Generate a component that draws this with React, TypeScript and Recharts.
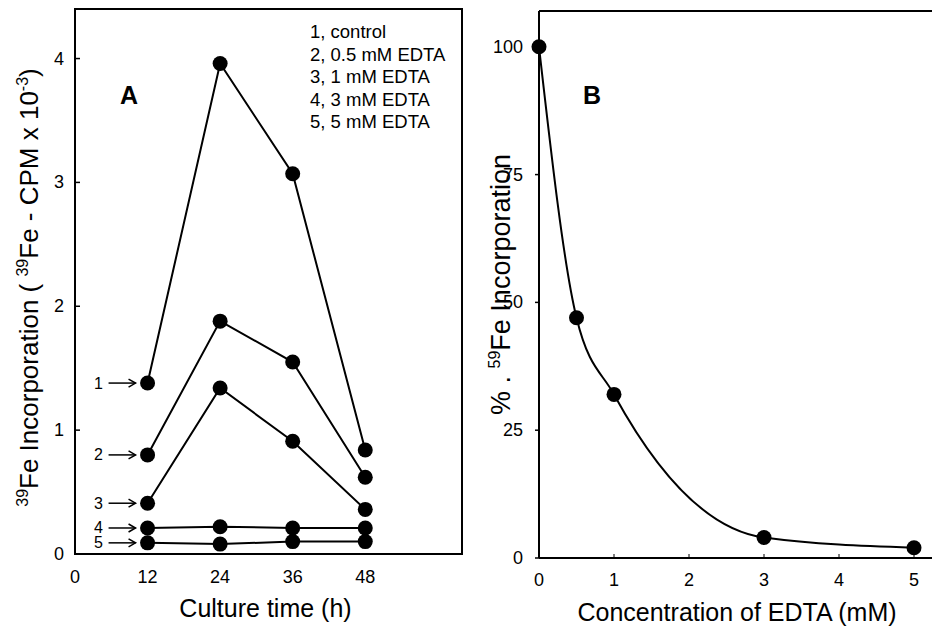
import React from 'react';
import { LineChart, Line, XAxis, YAxis, ReferenceArea, ReferenceLine, Legend, LabelList, Label } from 'recharts';

const FONT = '"Liberation Sans", Arial, Helvetica, sans-serif';

// Panel A: culture time course
const cultureTimes = [12, 24, 36, 48];
const controlValues = [1.38, 3.96, 3.07, 0.84];
const edta05Values = [0.8, 1.88, 1.55, 0.62];
const edta1Values = [0.41, 1.34, 0.91, 0.36];
const edta3Values = [0.21, 0.22, 0.21, 0.21];
const edta5Values = [0.09, 0.08, 0.1, 0.1];
const seriesIds = ['1', '2', '3', '4', '5'];
const seriesNames = ['1, control', '2, 0.5 mM EDTA', '3, 1 mM EDTA', '4, 3 mM EDTA', '5, 5 mM EDTA'];
const timeTicks = [0, 12, 24, 36, 48];
const cpmTicks = [0, 1, 2, 3, 4];

// Panel B: dose response
const edtaConcentrations = [0, 0.5, 1, 3, 5];
const percentIncorporation = [100, 47, 32, 4, 2];
const concTicks = [0, 1, 2, 3, 4, 5];
const percentTicks = [0, 25, 50, 75, 100];

const seriesValues = [controlValues, edta05Values, edta1Values, edta3Values, edta5Values];
const timeData = cultureTimes.map((t, i) => {
  const row: any = { t };
  seriesValues.forEach((s, k) => {
    row['s' + k] = s[i];
  });
  return row;
});
const edtaData = edtaConcentrations.map((c, i) => ({ c, p: percentIncorporation[i] }));

const TICK_FS = 18;

const LeftTick = (props: any) => {
  const { x, y, payload } = props;
  return (
    <text x={x} y={y} textAnchor="end" dominantBaseline="central" fontSize={TICK_FS} fontFamily={FONT} fill="#000">
      {payload.value}
    </text>
  );
};

const BottomTick = (props: any) => {
  const { x, y, payload } = props;
  return (
    <text x={x} y={y} textAnchor="middle" dominantBaseline="central" fontSize={TICK_FS} fontFamily={FONT} fill="#000">
      {payload.value}
    </text>
  );
};

const makeArrowLabel = (id: string) => (props: any) => {
  const { x, y, index } = props;
  if (index !== 0) return null;
  return (
    <g>
      <text x={x - 49} y={y} textAnchor="middle" dominantBaseline="central" fontSize={16} fontFamily={FONT} fill="#000">
        {id}
      </text>
      <line x1={x - 39} y1={y} x2={x - 12} y2={y} stroke="#000" strokeWidth={1.5} />
      <path d={`M${x - 19},${y - 4} L${x - 12},${y} L${x - 19},${y + 4}`} fill="none" stroke="#000" strokeWidth={1.5} />
    </g>
  );
};

const YLabelA = (props: any) => {
  const { viewBox } = props;
  const px = viewBox.x + 38;
  const py = viewBox.y + viewBox.height / 2 + 6;
  return (
    <text x={px} y={py} transform={`rotate(-90, ${px}, ${py})`} textAnchor="middle" fontSize={26} fontFamily={FONT} fill="#000">
      <tspan fontSize={16} dy={-10}>39</tspan>
      <tspan dy={10}>Fe Incorporation ( </tspan>
      <tspan fontSize={16} dy={-10}>39</tspan>
      <tspan dy={10}>Fe - CPM x 10</tspan>
      <tspan fontSize={16} dy={-10}>-3</tspan>
      <tspan dy={10}>)</tspan>
    </text>
  );
};

const YLabelB = (props: any) => {
  const { viewBox } = props;
  const px = viewBox.x + 40;
  const py = viewBox.y + viewBox.height / 2;
  return (
    <text x={px} y={py} transform={`rotate(-90, ${px}, ${py})`} textAnchor="middle" fontSize={27} fontFamily={FONT} fill="#000">
      <tspan>% . </tspan>
      <tspan fontSize={16} dy={-10}>59</tspan>
      <tspan dy={10}>Fe Incorporation</tspan>
    </text>
  );
};

const makeXLabel = (text: string, dx: number) => (props: any) => {
  const { viewBox } = props;
  return (
    <text
      x={viewBox.x + viewBox.width / 2 + dx}
      y={viewBox.y + 54}
      textAnchor="middle"
      dominantBaseline="central"
      fontSize={25}
      fontFamily={FONT}
      fill="#000"
    >
      {text}
    </text>
  );
};

const LegendBlock = (props: any) => (
  <div style={{ fontFamily: FONT, fontSize: 18.5, lineHeight: '22.5px', color: '#000', whiteSpace: 'nowrap', textAlign: 'left' }}>
    {(props.payload || []).map((e: any) => (
      <div key={e.value}>{e.value}</div>
    ))}
  </div>
);

const letterStyle: React.CSSProperties = {
  position: 'absolute',
  transform: 'translate(-50%, -50%)',
  fontFamily: FONT,
  fontSize: 25,
  fontWeight: 'bold',
  lineHeight: 1,
  color: '#000',
};

export default function App() {
  return (
    <div style={{ position: 'absolute', left: 0, top: 0, width: 932, height: 627, background: '#fff', overflow: 'hidden' }}>
      <div style={{ position: 'absolute', left: 0, top: 0 }}>
        <LineChart width={470} height={627} data={timeData} margin={{ top: 9, right: 8, left: 0, bottom: 0 }}>
          <ReferenceArea x1={0} x2={64} y1={0} y2={4.4} fill="none" stroke="#000" strokeWidth={2} />
          <XAxis
            type="number"
            dataKey="t"
            domain={[0, 64]}
            ticks={timeTicks}
            height={73}
            tickSize={0}
            tickMargin={23}
            tickLine={false}
            axisLine={{ stroke: '#000', strokeWidth: 2 }}
            tick={<BottomTick />}
          >
            <Label content={makeXLabel('Culture time (h)', -3)} />
          </XAxis>
          <YAxis
            type="number"
            domain={[0, 4.4]}
            ticks={cpmTicks}
            width={75}
            tickSize={-5}
            tickMargin={16}
            tickLine={{ stroke: '#000', strokeWidth: 1.5 }}
            axisLine={{ stroke: '#000', strokeWidth: 2 }}
            tick={<LeftTick />}
          >
            <Label content={YLabelA} />
          </YAxis>
          <Legend
            layout="vertical"
            align="center"
            verticalAlign="middle"
            wrapperStyle={{ left: 310, top: 21, width: 'auto', height: 'auto' }}
            content={LegendBlock}
          />
          {seriesIds.map((id, k) => (
            <Line
              key={id}
              type="linear"
              dataKey={'s' + k}
              name={seriesNames[k]}
              stroke="#000"
              strokeWidth={2}
              dot={{ r: 7.5, fill: '#000', stroke: '#000', strokeWidth: 0 }}
              activeDot={false}
              isAnimationActive={false}
            >
              <LabelList dataKey={'s' + k} content={makeArrowLabel(id)} />
            </Line>
          ))}
        </LineChart>
      </div>
      <div style={{ position: 'absolute', left: 470, top: 0 }}>
        <LineChart width={462} height={627} data={edtaData} margin={{ top: 11, right: 0, left: 0, bottom: 0 }}>
          <ReferenceLine y={107} stroke="#000" strokeWidth={2} />
          <XAxis
            type="number"
            dataKey="c"
            domain={[0, 5.24]}
            ticks={concTicks}
            height={69}
            tickSize={-4}
            tickMargin={26}
            tickLine={{ stroke: '#000', strokeWidth: 1 }}
            axisLine={{ stroke: '#000', strokeWidth: 2 }}
            tick={<BottomTick />}
          >
            <Label content={makeXLabel('Concentration of EDTA (mM)', 1.5)} />
          </XAxis>
          <YAxis
            type="number"
            domain={[0, 107]}
            ticks={percentTicks}
            width={69}
            tickSize={4}
            tickMargin={12}
            tickLine={{ stroke: '#000', strokeWidth: 1.5 }}
            axisLine={{ stroke: '#000', strokeWidth: 2 }}
            tick={<LeftTick />}
          >
            <Label content={YLabelB} />
          </YAxis>
          <Line
            type="monotone"
            dataKey="p"
            stroke="#000"
            strokeWidth={2}
            dot={{ r: 7.5, fill: '#000', stroke: '#000', strokeWidth: 0 }}
            activeDot={false}
            isAnimationActive={false}
          />
        </LineChart>
      </div>
      <div style={{ ...letterStyle, left: 129, top: 95 }}>A</div>
      <div style={{ ...letterStyle, left: 592, top: 95 }}>B</div>
    </div>
  );
}
